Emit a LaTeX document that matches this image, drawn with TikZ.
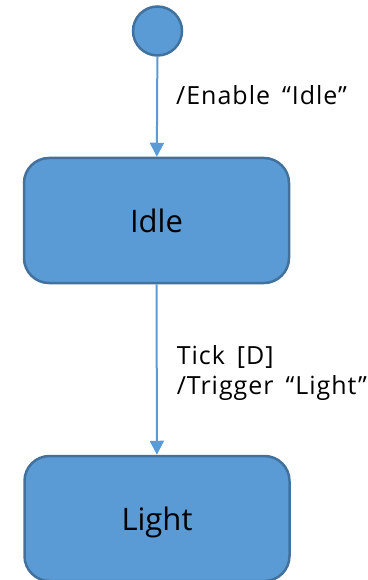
\documentclass[tikz,border=0pt]{standalone}
\usepackage{fontspec}
\setmainfont{Open Sans}
\newfontfamily\trfont[LetterSpace=4,WordSpace=1.6]{Open Sans}
\usetikzlibrary{arrows.meta,positioning}

\definecolor{statefill}{HTML}{5B9BD5}
\definecolor{stateline}{HTML}{41719C}

\tikzset{
  state/.style={draw=stateline, fill=statefill, line width=2.5pt,
    rounded corners=25pt, minimum width=265pt, minimum height=125pt,
    text depth=0pt, font=\fontsize{31}{36}\selectfont},
  initstate/.style={draw=stateline, fill=statefill, line width=2.5pt,
    circle, minimum size=49pt, inner sep=0pt},
  trans/.style={draw=statefill, line width=2pt,
    -{Triangle[width=14pt,length=14pt]}},
  trlabel/.style={font=\trfont\fontsize{25}{30}\selectfont, align=left, inner sep=0pt}
}

\begin{document}
\begin{tikzpicture}[x=1pt,y=-1pt]
\useasboundingbox (0,0) rectangle (367,580);

\node[initstate] (init) at (157.5,31) {};
\node[state] (idle) at (156.5,220.5) {Idle};
\node[state] (light) at (157,518.5) {Light};

\draw[trans] (init) -- (idle)
  node[trlabel, pos=0.48, anchor=base west, xshift=18pt] (enable) {/Enable “Idle”};

\draw[trans] (idle) -- (light)
  node[trlabel, pos=0.52, anchor=west, xshift=19pt] (tick) {Tick [D]\\/Trigger “Light”};
\end{tikzpicture}
\end{document}
